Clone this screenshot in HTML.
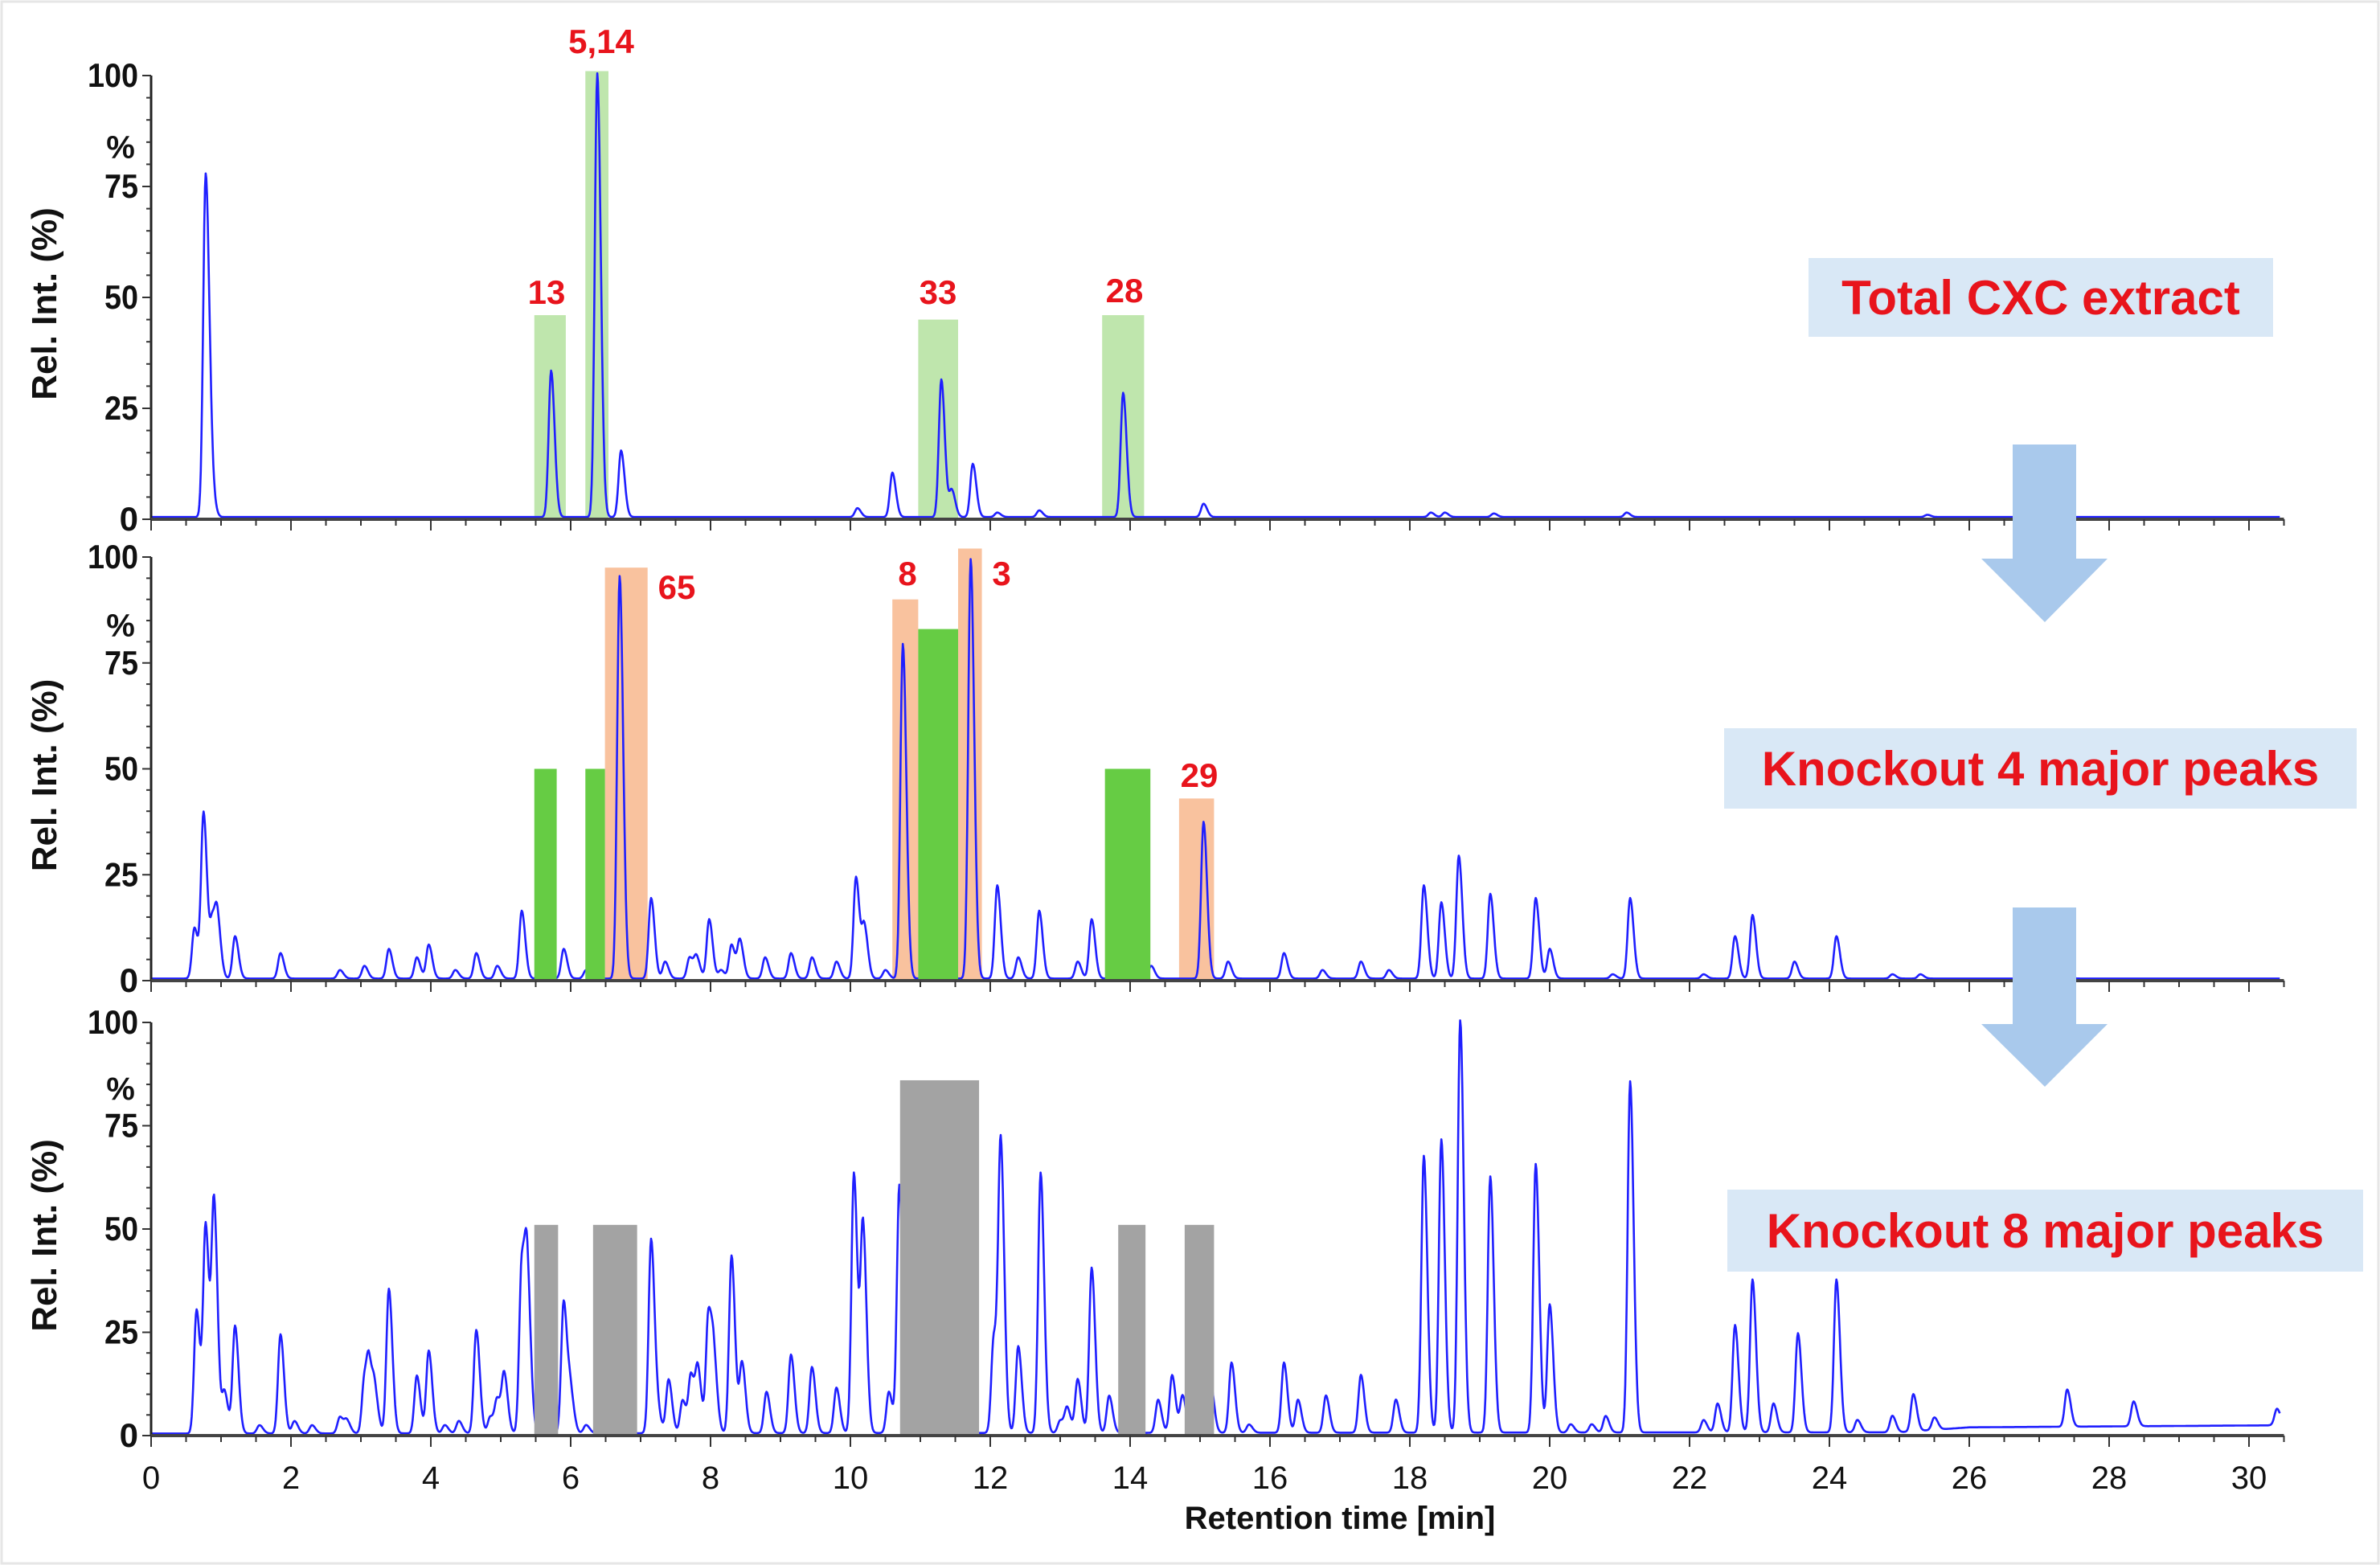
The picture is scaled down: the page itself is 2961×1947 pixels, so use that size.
<!DOCTYPE html>
<html><head><meta charset="utf-8"><style>
html,body{margin:0;padding:0;background:#fff;}
svg{display:block;font-family:"Liberation Sans",Arial,sans-serif;}
</style></head><body>
<svg id="chart" width="2961" height="1947" viewBox="0 0 2961 1947">
<rect x="2" y="2" width="2957" height="1943" fill="#fff" stroke="#e6e6e6" stroke-width="3"/>
<g id="layer"></g>
</svg>
<script>
// ---- data ----
const xTicks = [0,2,4,6,8,10,12,14,16,18,20,22,24,26,28,30];
const yTicks = [0,25,50,75,100];
const panelTitles = ["Total CXC extract","Knockout 4 major peaks","Knockout 8 major peaks"];

const p1Times = [0.78,0.86,5.72,6.38,6.72,10.1,10.6,11.3,11.45,11.75,12.1,12.7,13.9,15.05,18.3,18.5,19.2,21.1,25.4];
const p1Heights = [77,6,33,100,15,2,10,31,6,12,1,1.5,28,3,1,1,0.8,1,0.5];

const p2Times = [0.62,0.75,0.88,0.95,1.2,1.85,2.7,3.05,3.4,3.8,3.97,4.35,4.65,4.95,5.3,5.65,5.9,6.22,6.7,7.15,7.35,7.7,7.8,7.98,8.15,8.3,8.42,8.78,9.15,9.45,9.8,10.08,10.2,10.5,10.75,11.3,11.72,12.1,12.4,12.7,13.25,13.45,13.8,14.3,15.05,15.4,16.2,16.75,17.3,17.7,18.2,18.45,18.7,19.15,19.8,20.0,20.9,21.15,22.2,22.65,22.9,23.5,24.1,24.9,25.3,27.4];
const p2Heights = [12,39,13,12,10,6,2,3,7,5,8,2,6,3,16,2,7,2,95,19,4,5,5,14,2,8,9,5,6,5,4,24,12,2,79,28,99,22,5,16,4,14,4,3,37,4,6,2,4,2,22,18,29,20,19,7,1,19,1,10,15,4,10,1,1,1];

const p3Times = [0.65,0.78,0.9,1.05,1.2,1.55,1.85,2.05,2.3,2.7,2.8,3.05,3.12,3.2,3.4,3.8,3.97,4.2,4.4,4.65,4.85,4.95,5.05,5.3,5.38,5.9,6.0,6.22,7.15,7.25,7.4,7.6,7.72,7.82,7.97,8.05,8.3,8.45,8.8,9.15,9.45,9.8,10.05,10.18,10.55,10.7,12.05,12.15,12.4,12.72,13.0,13.1,13.25,13.45,13.7,13.95,14.4,14.6,14.75,15.15,15.45,15.7,16.2,16.4,16.8,17.3,17.8,18.2,18.45,18.72,19.15,19.8,20.0,20.3,20.6,20.8,21.15,22.2,22.4,22.65,22.9,23.2,23.55,24.1,24.4,24.9,25.2,25.5,27.4,28.35,30.4];
const p3Heights = [30,50,55,10,26,2,24,3,2,4,3,13,14,9,35,14,20,2,3,25,4,8,14,41,35,32,9,2,47,4,13,8,14,15,29,15,43,17,10,19,16,11,63,50,10,60,23,69,21,63,3,6,13,40,9,3,8,14,9,12,17,2,17,8,9,14,8,67,71,100,62,65,31,2,2,4,85,3,7,26,37,7,24,37,3,4,9,3,9,6,4];
const p3BaseTimes = [0,25,26,30.5];
const p3BaseLevels = [0.5,0.8,2,2.5];

const p1BoxStart = [5.48,6.21,10.97,13.6];
const p1BoxEnd = [5.93,6.54,11.54,14.2];
const p1BoxTop = [46,101,45,46];
const p1BoxLabels = ["13","5,14","33","28"];

const p2GreenStart = [5.48,6.21,10.97,13.64];
const p2GreenEnd = [5.8,6.49,11.54,14.29];
const p2GreenTop = [50,50,83,50];
const p2OrangeStart = [6.49,10.6,11.54,14.7];
const p2OrangeEnd = [7.1,10.97,11.88,15.2];
const p2OrangeTop = [97.5,90,102,43];
const p2OrangeLabels = ["65","8","3","29"];

const p3GreyStart = [5.48,6.32,10.71,13.83,14.78];
const p3GreyEnd = [5.82,6.95,11.84,14.22,15.2];
const p3GreyTop = [51,51,86,51,51];

// ---- layout ----
const X0=188, PXMIN=87.0;
const panels=[{y0:646,y100:94},{y0:1220,y100:693},{y0:1786,y100:1272}];
const xs=t=>X0+t*PXMIN;
const NS="http://www.w3.org/2000/svg";
const layer=document.getElementById('layer');
function mk(tag,attrs,parent){const e=document.createElementNS(NS,tag);for(const k in attrs)e.setAttribute(k,attrs[k]);(parent||layer).appendChild(e);return e;}

function signal(times,heights,bt,bl,t){
  let b=0.5;
  if(bt){for(let i=0;i<bt.length-1;i++){if(t>=bt[i]&&t<=bt[i+1]){b=bl[i]+(bl[i+1]-bl[i])*(t-bt[i])/(bt[i+1]-bt[i]);}}}
  let s=b;
  for(let i=0;i<times.length;i++){const d=t-times[i];const sg=d<0?0.035:0.05;s+=heights[i]*Math.exp(-d*d/(2*sg*sg));}
  return Math.min(s,100.5);
}

panels.forEach((P,pi)=>{
  const ys=v=>P.y0-(P.y0-P.y100)*v/100;
  const g=mk('g',{});
  
  
  P.ys=ys;P.g=g;
});

function boxes(pi,st,en,tp,fill,name){
  const P=panels[pi];
  for(let i=0;i<st.length;i++){
    const r=mk('rect',{x:xs(st[i]),y:P.ys(tp[i]),width:xs(en[i])-xs(st[i]),height:P.ys(0)-P.ys(tp[i]),fill:fill},P.g);
    
    
  }
}
function trace(pi,times,heights,bt,bl){
  const P=panels[pi];let d='';
  for(let t=0;t<=30.45;t+=0.01){d+=(d?'L':'M')+xs(t).toFixed(1)+','+P.ys(signal(times,heights,bt,bl,t)).toFixed(1);}
  const p=mk('path',{d:d,fill:'none',stroke:'#1f1fff','stroke-width':2.6,'stroke-linejoin':'round'},P.g);
  
  
}
boxes(0,p1BoxStart,p1BoxEnd,p1BoxTop,'#bfe6ad','highlight-box');
trace(0,p1Times,p1Heights);
boxes(1,p2OrangeStart,p2OrangeEnd,p2OrangeTop,'#f9c29e','highlight-box');
trace(1,p2Times,p2Heights);
boxes(1,p2GreenStart,p2GreenEnd,p2GreenTop,'#66cc44','knockout-box');
trace(2,p3Times,p3Heights,p3BaseTimes,p3BaseLevels);
boxes(2,p3GreyStart,p3GreyEnd,p3GreyTop,'#a3a3a3','knockout-box');

// axes
panels.forEach((P,pi)=>{
  const g=P.g;
  const ya=mk('line',{x1:X0,y1:P.y100,x2:X0,y2:P.y0,stroke:'#222','stroke-width':3},g);
  
  
  const xa=mk('line',{x1:X0,y1:P.y0,x2:xs(30.5),y2:P.y0,stroke:'#444','stroke-width':4},g);
  
  
  for(let v=0;v<=100;v+=5){mk('line',{x1:X0-(v%25?6:11),y1:P.ys(v),x2:X0,y2:P.ys(v),stroke:'#333','stroke-width':2},g);}
  yTicks.forEach(v=>{
    const s=String(v);
    const at={x:X0-16,y:P.ys(v)+14,'text-anchor':'end','font-size':42,'font-weight':'bold',fill:'#111'};
    if(s.length>1){at.textLength=s.length*21;at.lengthAdjust='spacingAndGlyphs';}
    const t=mk('text',at,g);
    t.textContent=s;
    
    
  });
  const pc=mk('text',{x:X0-38,y:P.ys(84)+14,'text-anchor':'middle','font-size':40,'font-weight':'bold',fill:'#111'},g);
  pc.textContent='%';
  
  
  for(let t=0;t<=30.5;t+=0.5){const maj=(t%2===0);mk('line',{x1:xs(t),y1:P.y0,x2:xs(t),y2:P.y0+(maj?14:8),stroke:'#333','stroke-width':2},g);}
  const cy=(P.y0+P.y100)/2+8;
  const yt=mk('text',{x:0,y:0,transform:`translate(70,${cy}) rotate(-90)`,'text-anchor':'middle','font-size':44,'font-weight':'bold',fill:'#111'},g);
  yt.textContent='Rel. Int. (%)';
  
  
});
xTicks.forEach(v=>{
  const t=mk('text',{x:xs(v),y:1852,'text-anchor':'middle','font-size':40,fill:'#111'});
  t.textContent=v;
  
  
});
const xt=mk('text',{x:1667,y:1902,'text-anchor':'middle','font-size':40,'font-weight':'bold',fill:'#111'});
xt.textContent='Retention time [min]';



function lbl(txt,x,y){const t=mk('text',{x:x,y:y,'text-anchor':'middle','font-size':42,'font-weight':'bold',fill:'#e8141c'});t.textContent=txt;

}
const p1LabelPos=[[680,378],[748,66],[1167,378],[1399,376]];
p1BoxLabels.forEach((s,i)=>lbl(s,p1LabelPos[i][0],p1LabelPos[i][1]));
const p2LabelPos=[[842,745],[1129,728],[1246,728],[1492,979]];
p2OrangeLabels.forEach((s,i)=>lbl(s,p2LabelPos[i][0],p2LabelPos[i][1]));

const tb=[[2250,321,578,98],[2145,906,787,100],[2149,1480,791,102]];
panelTitles.forEach((s,i)=>{
  const r=mk('rect',{x:tb[i][0],y:tb[i][1],width:tb[i][2],height:tb[i][3],fill:'#d9e8f6'});
  
  
  const t=mk('text',{x:tb[i][0]+tb[i][2]/2,y:tb[i][1]+tb[i][3]/2+21,'text-anchor':'middle','font-size':60,'font-weight':'bold',fill:'#e8141c'});
  t.textContent=s;
  
  
});
[[553,695,774],[1129,1274,1352]].forEach(a=>{
  const p=mk('polygon',{points:`2504,${a[0]} 2583,${a[0]} 2583,${a[1]} 2622,${a[1]} 2544,${a[2]} 2465,${a[1]} 2504,${a[1]}`,fill:'#a9c9ec'});
  
  
});
</script>
</body></html>
